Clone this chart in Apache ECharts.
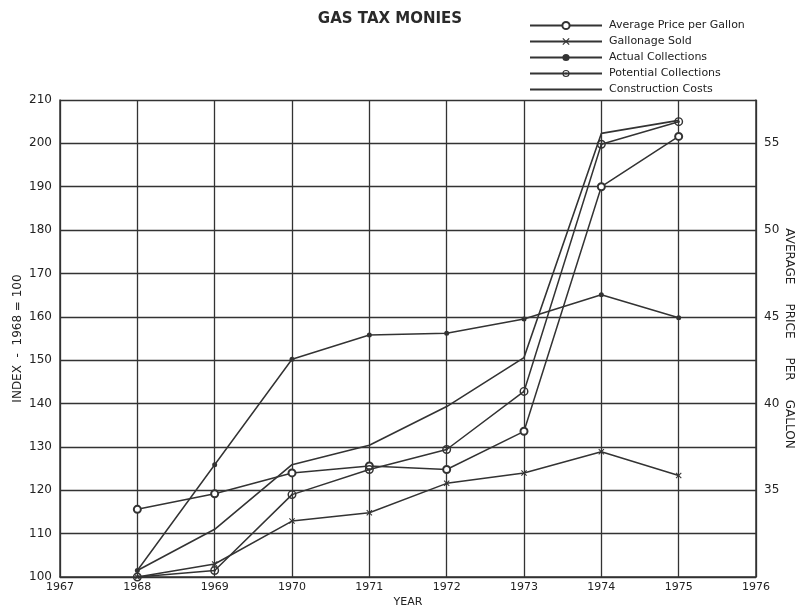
<!DOCTYPE html>
<html>
<head>
<meta charset="utf-8">
<script src="https://cdn.jsdelivr.net/npm/echarts@6/dist/echarts.min.js"></script>
<style>html,body{margin:0;padding:0;background:#fff}#c{width:797px;height:612px}</style>
</head>
<body>
<div id="c"></div>
<script>
const years = [1968, 1969, 1970, 1971, 1972, 1973, 1974, 1975];
const avgPrice = [33.9, 34.8, 36.0, 36.4, 36.2, 38.4, 52.5, 55.4];        // cents, right axis
const gallonage = [100, 103, 112.9, 114.8, 121.6, 124, 128.9, 123.4];
const actual = [101.5, 125.9, 150.2, 155.8, 156.2, 159.5, 165.1, 159.8];
const potential = [100, 101.5, 119, 124.8, 129.4, 142.8, 199.8, 205];
const construction = [101.5, 111, 125.9, 130.4, 139.3, 150.6, 202.3, 205.3];
const leftTicks = [100, 110, 120, 130, 140, 150, 160, 170, 180, 190, 200, 210];
const rightTicks = [35, 40, 45, 50, 55];

const ink = '#333';
const font = 'DejaVu Sans';
const pair = arr => years.map((y, i) => [y, arr[i]]);

const crossSym = 'path://M0,1.2L1.2,0L5,3.8L8.8,0L10,1.2L6.2,5L10,8.8L8.8,10L5,6.2L1.2,10L0,8.8L3.8,5Z';
const dotCircleSym = 'path://M5,0A5,5 0 1,1 5,10A5,5 0 1,1 5,0Z M5,1.6A3.4,3.4 0 1,0 5,8.4A3.4,3.4 0 1,0 5,1.6Z M5,3.7A1.3,1.3 0 1,1 5,6.3A1.3,1.3 0 1,1 5,3.7Z';
const barIcon = 'path://M0,0L72,0L72,2.2L0,2.2Z';

const chart = echarts.init(document.getElementById('c'));
chart.setOption({
  backgroundColor: '#fff',
  animation: false,
  textStyle: { fontFamily: font, color: ink },
  title: {
    text: 'GAS TAX MONIES', left: 385, top: 7, textAlign: 'center',
    textStyle: { fontFamily: font, fontSize: 15, fontWeight: 'bold', color: '#2a2a2a' }
  },
  legend: {
    orient: 'vertical', left: 524, top: 15, itemWidth: 72, itemHeight: 9, itemGap: 5,
    textStyle: { fontFamily: font, fontSize: 11, color: '#222', padding: [0, 0, 0, 2] },
    data: ['Average Price per Gallon', 'Gallonage Sold', 'Actual Collections', 'Potential Collections',
      { name: 'Construction Costs', icon: barIcon }]
  },
  grid: { left: 60, right: 41, top: 100, bottom: 35, containLabel: false, outerBoundsMode: 'none' },
  xAxis: {
    type: 'value', min: 1967, max: 1976, interval: 1,
    name: 'YEAR', nameLocation: 'middle', nameGap: 20, nameMoveOverlap: false,
    nameTextStyle: { fontFamily: font, fontSize: 11, color: '#222' },
    axisLine: { show: true, lineStyle: { color: ink, width: 1.5 } },
    axisTick: { show: false },
    axisLabel: { fontFamily: font, fontSize: 11, color: '#222', margin: 5, formatter: v => String(v) },
    splitLine: { show: true, lineStyle: { color: ink, width: 1.3 } }
  },
  yAxis: [
    {
      type: 'value', min: 100, max: 210, interval: 10, position: 'left',
      name: 'INDEX  -  1968 = 100', nameLocation: 'middle', nameGap: 36, nameMoveOverlap: false,
      nameTextStyle: { fontFamily: font, fontSize: 12, color: '#222' },
      axisLine: { show: true, lineStyle: { color: ink, width: 1.5 } },
      axisTick: { show: false },
      axisLabel: { fontFamily: font, fontSize: 12, color: '#222', margin: 8,
        formatter: v => leftTicks.includes(v) ? String(v) : '' },
      splitLine: { show: true, lineStyle: { color: ink, width: 1.3 } }
    },
    {
      type: 'value', min: 30, max: 57.5, interval: 5, position: 'right',
      name: 'AVERAGE     PRICE     PER     GALLON', nameLocation: 'middle', nameGap: 27, nameRotate: -90,
      nameMoveOverlap: false,
      nameTextStyle: { fontFamily: font, fontSize: 12, color: '#222' },
      axisLine: { show: true, lineStyle: { color: ink, width: 1.5 } },
      axisTick: { show: false },
      axisLabel: { fontFamily: font, fontSize: 12, color: '#222', margin: 8,
        formatter: v => rightTicks.includes(v) ? String(v) : '' },
      splitLine: { show: false }
    }
  ],
  series: [
    { name: 'Average Price per Gallon', type: 'line', yAxisIndex: 1, data: pair(avgPrice),
      symbol: 'emptyCircle', symbolSize: 7,
      lineStyle: { color: ink, width: 1.5 }, itemStyle: { color: ink, borderWidth: 1.2 } },
    { name: 'Gallonage Sold', type: 'line', data: pair(gallonage),
      symbol: crossSym, symbolSize: 6,
      lineStyle: { color: ink, width: 1.5 }, itemStyle: { color: ink } },
    { name: 'Actual Collections', type: 'line', data: pair(actual),
      symbol: 'circle', symbolSize: 5,
      lineStyle: { color: ink, width: 1.5 }, itemStyle: { color: ink } },
    { name: 'Potential Collections', type: 'line', data: pair(potential),
      symbol: dotCircleSym, symbolSize: 9,
      lineStyle: { color: ink, width: 1.5 }, itemStyle: { color: ink } },
    { name: 'Construction Costs', type: 'line', data: pair(construction),
      symbol: 'none', showSymbol: false,
      lineStyle: { color: ink, width: 1.6 }, itemStyle: { color: ink } }
  ]
});
</script>
</body>
</html>
